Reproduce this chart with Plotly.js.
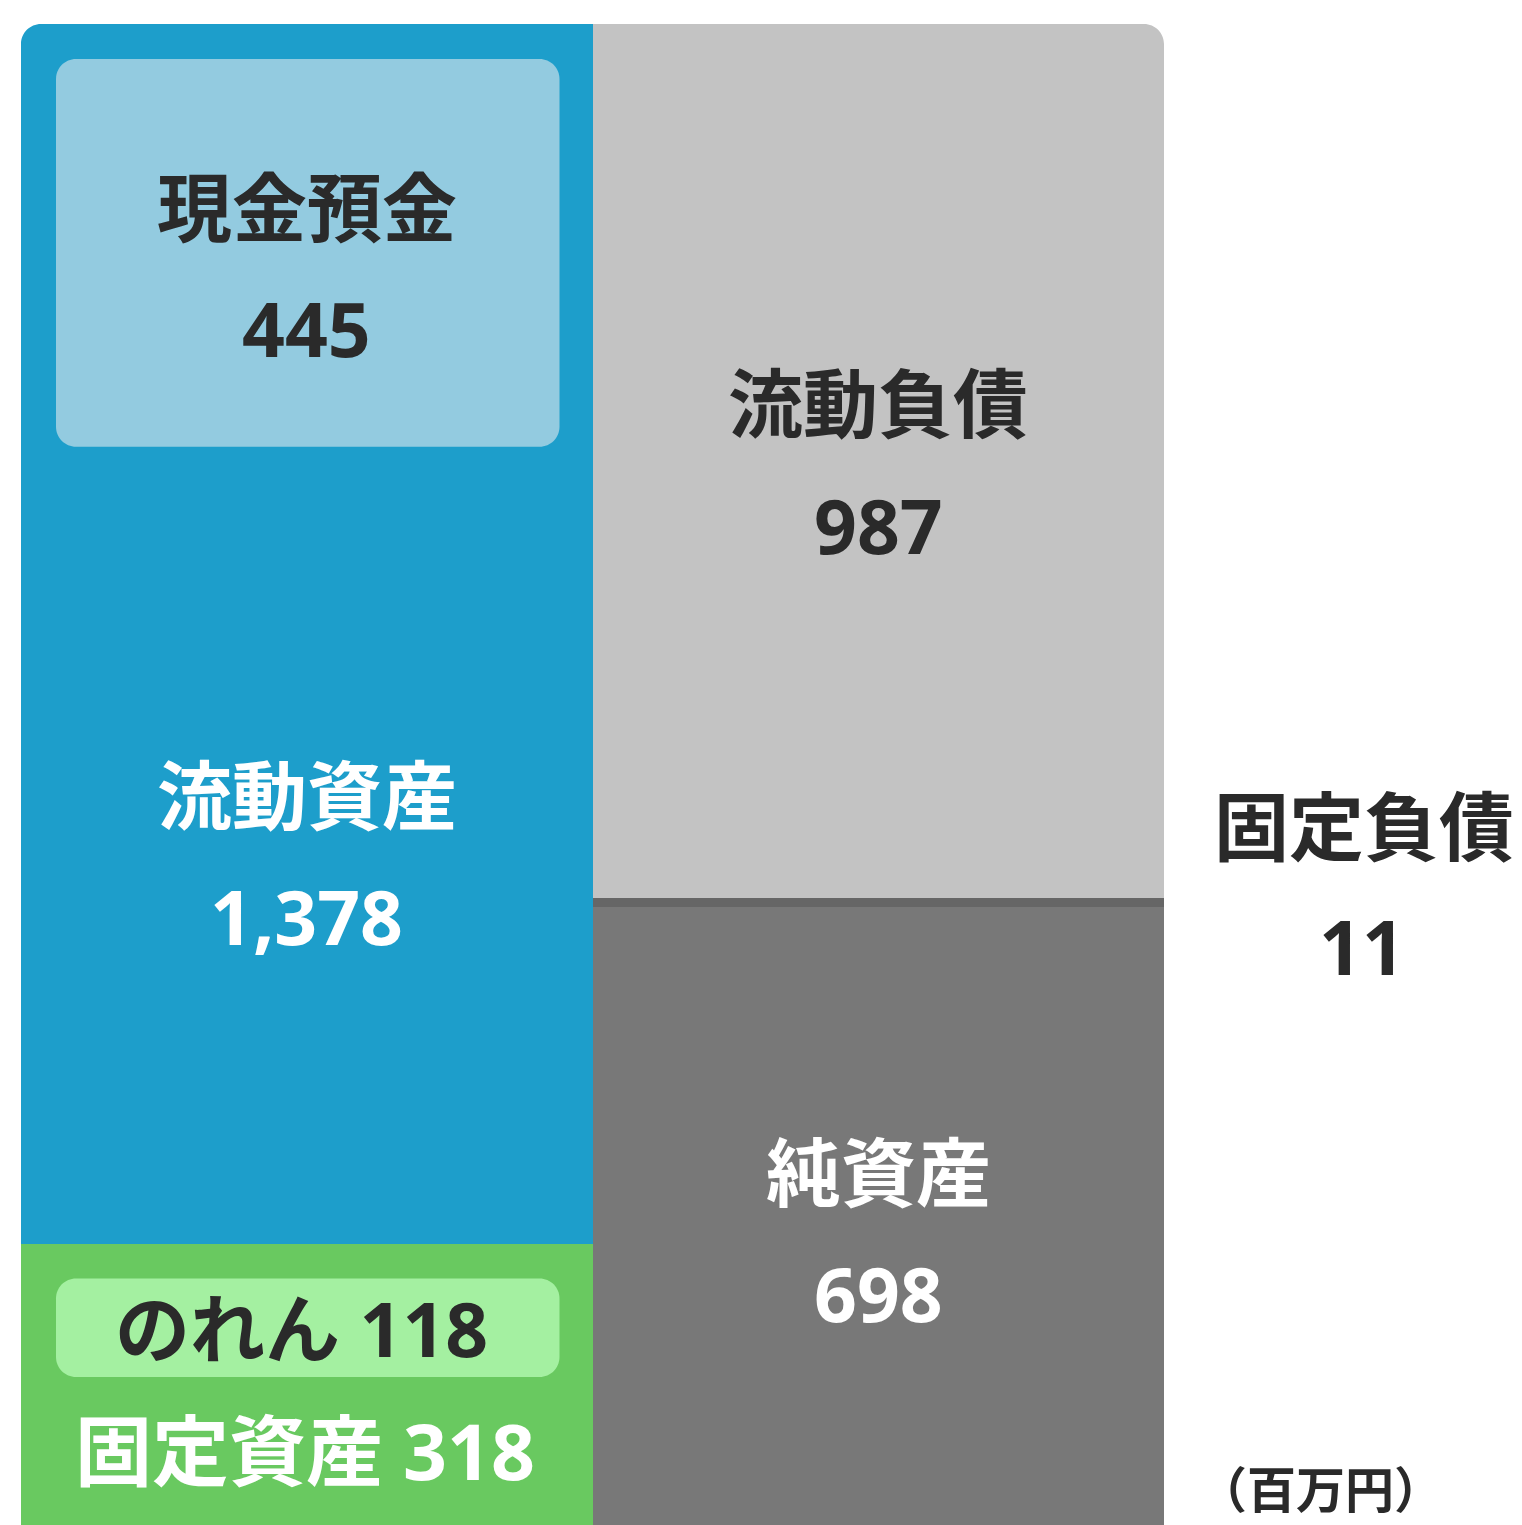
<!DOCTYPE html>
<html>
<head>
<meta charset="utf-8">
<script src="https://cdn.plot.ly/plotly-3.0.1.min.js"></script>
<style>
html,body{margin:0;padding:0;background:#ffffff;}
#chart{width:1522px;height:1525px;}
</style>
</head>
<body>
<div id="chart"></div>
<script>
// ---- data (百万円) ----
const assetLabels = ['固定資産', '流動資産'];
const assetValues = [318, 1378];
const liabLabels = ['純資産', '固定負債', '流動負債'];
const liabValues = [698, 11, 987];
const insetLabels = ['現金預金', 'のれん'];
const insetValues = [445, 118];
const unitLabel = '（百万円）';

// ---- styles ----
const assetColors = ['#69c960', '#1d9ecb'];
const liabColors = ['#787878', '#666666', '#c3c3c3'];
const insetColors = ['#93cbe0', '#a4f0a1'];
const darkText = '#2a2a2a';
const FONT = 'Noto Sans, "Noto Sans CJK JP", sans-serif';

// ---- geometry ----
const W = 1522, H = 1525;
const ML = 21, MT = 24;
const plotW = W - ML, plotH = H - MT;
const XS = 571.5;                         // px per column
const total = assetValues.reduce((a, b) => a + b, 0);
const YS = plotH / total;                 // px per unit
const xMax = -0.5 + plotW / XS;

const yAt = py => (H - py) / YS;
const xAt = px => (px - ML) / XS - 0.5;

const traces = [];
assetLabels.forEach((n, i) => traces.push({
  type: 'bar', x: [0], y: [assetValues[i]], width: [1], name: n,
  marker: {color: assetColors[i], line: {width: 0}}, hoverinfo: 'skip', showlegend: false
}));
liabLabels.forEach((n, i) => traces.push({
  type: 'bar', x: [1], y: [liabValues[i]], width: [1], name: n,
  marker: {color: liabColors[i], line: {width: 0}}, hoverinfo: 'skip', showlegend: false
}));

// rounded rectangle path in data coordinates
const K = 0.5523;
function roundRect(x0, x1, y0, y1, r) {
  const rx = r / XS, ry = r / YS;
  return `M${x0 + rx},${y1} L${x1 - rx},${y1} ` +
    `C${x1 - rx + rx * K},${y1} ${x1},${y1 - ry + ry * K} ${x1},${y1 - ry} ` +
    `L${x1},${y0 + ry} ` +
    `C${x1},${y0 + ry - ry * K} ${x1 - rx + rx * K},${y0} ${x1 - rx},${y0} ` +
    `L${x0 + rx},${y0} ` +
    `C${x0 + rx - rx * K},${y0} ${x0},${y0 + ry - ry * K} ${x0},${y0 + ry} ` +
    `L${x0},${y1 - ry} ` +
    `C${x0},${y1 - ry + ry * K} ${x0 + rx - rx * K},${y1} ${x0 + rx},${y1} Z`;
}

const shapes = [];
// outer top corners: white masks
const R = 20, rx = R / XS, ry = R / YS;
const liabTotal = liabValues.reduce((a, b) => a + b, 0);
shapes.push({
  type: 'path', xref: 'x', yref: 'y', layer: 'above', fillcolor: '#ffffff', line: {width: 0},
  path: `M-0.5,${total} L${-0.5 + rx},${total} C${-0.5 + rx * (1 - K)},${total} -0.5,${total - ry * (1 - K)} -0.5,${total - ry} Z`
});
shapes.push({
  type: 'path', xref: 'x', yref: 'y', layer: 'above', fillcolor: '#ffffff', line: {width: 0},
  path: `M1.5,${liabTotal} L${1.5 - rx},${liabTotal} C${1.5 - rx * (1 - K)},${liabTotal} 1.5,${liabTotal - ry * (1 - K)} 1.5,${liabTotal - ry} Z`
});

// inset boxes (cash inside current assets, goodwill inside fixed assets)
const padTop = 35 / YS, shrink = 6 / YS;
const bx0 = -0.5 + 35 / XS, bx1 = 0.5 - 33 / XS;
const cashTop = assetValues[0] + assetValues[1] - padTop;
const cashBot = cashTop - insetValues[0] + shrink;
const gwTop = assetValues[0] - padTop;
const gwBot = gwTop - insetValues[1] + shrink;
shapes.push({type: 'path', xref: 'x', yref: 'y', layer: 'above', fillcolor: insetColors[0],
  line: {width: 0}, path: roundRect(bx0, bx1, cashBot, cashTop, 20)});
shapes.push({type: 'path', xref: 'x', yref: 'y', layer: 'above', fillcolor: insetColors[1],
  line: {width: 0}, path: roundRect(bx0, bx1, gwBot, gwTop, 20)});

const fmt = v => v.toLocaleString('en-US');
function ann(text, x, py, color, size) {
  return {
    text: text, x: x, y: yAt(py), xref: 'x', yref: 'y', showarrow: false,
    xanchor: 'center', yanchor: 'middle',
    font: {family: FONT, size: size || 75, color: color, weight: 'bold'}
  };
}
const cxL = 0, cxR = 1;
const annotations = [
  ann(insetLabels[0], cxL, 207, darkText),
  ann(fmt(insetValues[0]), cxL, 328, darkText),
  ann(assetLabels[1], cxL, 795, '#ffffff'),
  ann(fmt(assetValues[1]), cxL, 916, '#ffffff'),
  ann(insetLabels[1] + ' ' + fmt(insetValues[1]), xAt(301), 1328, darkText),
  ann(assetLabels[0] + ' ' + fmt(assetValues[0]), xAt(305), 1450, '#ffffff', 77),
  ann(liabLabels[2], cxR, 403, darkText),
  ann(fmt(liabValues[2]), cxR, 525, darkText),
  ann(liabLabels[0], cxR, 1172, '#ffffff'),
  ann(fmt(liabValues[0]), cxR, 1293, '#ffffff'),
  ann(liabLabels[1], xAt(1364), 826, darkText),
  ann(fmt(liabValues[1]), xAt(1362), 946, darkText),
  ann(unitLabel, xAt(1320), 1489, darkText, 49)
];

const layout = {
  width: W, height: H,
  margin: {l: ML, r: 0, t: MT, b: 0, pad: 0},
  paper_bgcolor: '#ffffff', plot_bgcolor: '#ffffff',
  barmode: 'stack', bargap: 0, showlegend: false, hovermode: false,
  xaxis: {range: [-0.5, xMax], visible: false, fixedrange: true},
  yaxis: {range: [0, total], visible: false, fixedrange: true},
  shapes: shapes, annotations: annotations
};

Plotly.newPlot('chart', traces, layout, {displayModeBar: false, staticPlot: true});
</script>
</body>
</html>
